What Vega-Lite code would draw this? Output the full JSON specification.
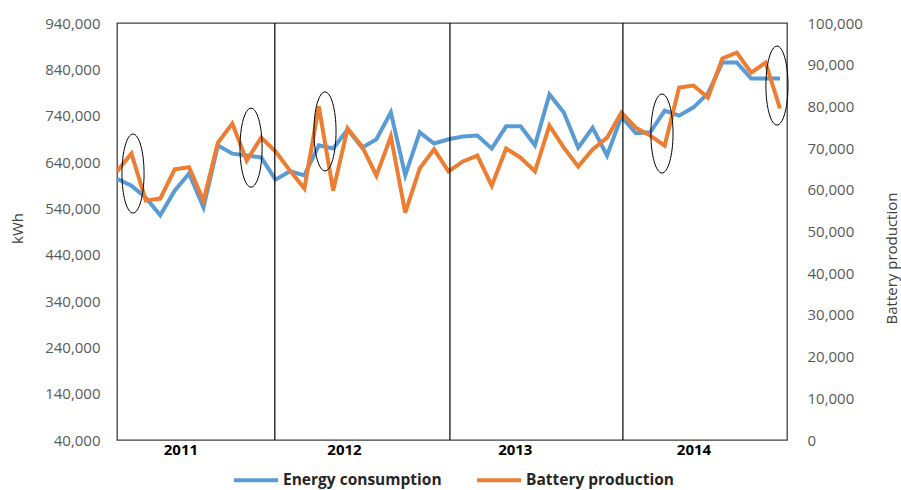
{
  "$schema": "https://vega.github.io/schema/vega-lite/v6.json",
  "width": 670,
  "height": 417,
  "autosize": {"type": "none"},
  "padding": {"left": 117, "top": 23, "right": 114, "bottom": 50},
  "config": {
    "view": {"stroke": "#404040", "strokeWidth": 1.3},
    "font": "Open Sans"
  },
  "datasets": {
    "series": [
      {"i": 0, "energy": 604000, "battery": 64400},
      {"i": 1, "energy": 589000, "battery": 68700},
      {"i": 2, "energy": 563000, "battery": 57400},
      {"i": 3, "energy": 525000, "battery": 57900},
      {"i": 4, "energy": 578000, "battery": 64900},
      {"i": 5, "energy": 615000, "battery": 65400},
      {"i": 6, "energy": 542000, "battery": 57400},
      {"i": 7, "energy": 676000, "battery": 71300},
      {"i": 8, "energy": 658000, "battery": 75900},
      {"i": 9, "energy": 654000, "battery": 67000},
      {"i": 10, "energy": 650000, "battery": 72500},
      {"i": 11, "energy": 602000, "battery": 69200},
      {"i": 12, "energy": 620000, "battery": 64600},
      {"i": 13, "energy": 611000, "battery": 60300},
      {"i": 14, "energy": 676000, "battery": 80000},
      {"i": 15, "energy": 669000, "battery": 59800},
      {"i": 16, "energy": 710000, "battery": 74700},
      {"i": 17, "energy": 671000, "battery": 70400},
      {"i": 18, "energy": 689000, "battery": 63400},
      {"i": 19, "energy": 747000, "battery": 72800},
      {"i": 20, "energy": 611000, "battery": 54500},
      {"i": 21, "energy": 704000, "battery": 65100},
      {"i": 22, "energy": 680000, "battery": 69700},
      {"i": 23, "energy": 689000, "battery": 64400},
      {"i": 24, "energy": 695000, "battery": 66800},
      {"i": 25, "energy": 697000, "battery": 68200},
      {"i": 26, "energy": 669000, "battery": 61000},
      {"i": 27, "energy": 717000, "battery": 69900},
      {"i": 28, "energy": 717000, "battery": 67700},
      {"i": 29, "energy": 676000, "battery": 64400},
      {"i": 30, "energy": 786000, "battery": 75400},
      {"i": 31, "energy": 747000, "battery": 70100},
      {"i": 32, "energy": 671000, "battery": 65600},
      {"i": 33, "energy": 714000, "battery": 69700},
      {"i": 34, "energy": 654000, "battery": 72500},
      {"i": 35, "energy": 738000, "battery": 78500},
      {"i": 36, "energy": 702000, "battery": 74900},
      {"i": 37, "energy": 704000, "battery": 73000},
      {"i": 38, "energy": 751000, "battery": 70600},
      {"i": 39, "energy": 740000, "battery": 84500},
      {"i": 40, "energy": 758000, "battery": 85000},
      {"i": 41, "energy": 788000, "battery": 82100},
      {"i": 42, "energy": 855000, "battery": 91500},
      {"i": 43, "energy": 855000, "battery": 92900},
      {"i": 44, "energy": 820000, "battery": 88100},
      {"i": 45, "energy": 820000, "battery": 90500},
      {"i": 46, "energy": 820000, "battery": 79500}
    ],
    "ovals": [
      {"i": 1.11, "battery": 63900},
      {"i": 9.3, "battery": 70100},
      {"i": 14.43, "battery": 74000},
      {"i": 37.81, "battery": 73500},
      {"i": 45.79, "battery": 85000}
    ],
    "seps": [
      {"i": 10.95},
      {"i": 23.1},
      {"i": 35.1}
    ]
  },
  "layer": [
    {
      "data": {"name": "series"},
      "mark": {"type": "line", "strokeWidth": 4},
      "encoding": {
        "x": {
          "field": "i",
          "type": "quantitative",
          "scale": {"domain": [0, 46.486], "nice": false, "zero": false},
          "axis": {
            "values": [4.4, 15.75, 27.6, 40],
            "labelExpr": "datum.value < 10 ? '2011' : datum.value < 20 ? '2012' : datum.value < 30 ? '2013' : '2014'",
            "ticks": false,
            "domain": false,
            "grid": false,
            "labelFontWeight": "bold",
            "labelColor": "#000000",
            "labelFontSize": 15,
            "labelPadding": 2,
            "labelFlush": false,
            "labelOverlap": false,
            "title": null
          }
        },
        "y": {
          "field": "energy",
          "type": "quantitative",
          "scale": {"domain": [40000, 940000], "nice": false, "zero": false},
          "axis": {
            "values": [40000, 140000, 240000, 340000, 440000, 540000, 640000, 740000, 840000, 940000],
            "format": ",.0f",
            "ticks": false,
            "domain": false,
            "grid": false,
            "labelPadding": 17,
            "labelFontSize": 15,
            "labelColor": "#595959",
            "title": "kWh",
            "titleFontSize": 15,
            "titleFontWeight": "normal",
            "titleColor": "#404040",
            "titleX": -100,
            "titleY": 205,
            "titleAngle": 270,
            "titleAlign": "center",
            "titleBaseline": "middle"
          }
        },
        "color": {
          "datum": "Energy consumption",
          "type": "nominal",
          "scale": {"domain": ["Energy consumption", "Battery production"], "range": ["#5B9BD5", "#ED7D31"]},
          "legend": {
            "orient": "none",
            "legendX": 115,
            "legendY": 433,
            "direction": "horizontal",
            "title": null,
            "symbolType": "stroke",
            "symbolSize": 1936,
            "symbolStrokeWidth": 4,
            "labelFontSize": 15.5,
            "labelFontWeight": "bold",
            "labelColor": "#262626",
            "labelOffset": 3,
            "columnPadding": 27
          }
        }
      }
    },
    {
      "layer": [
        {
          "data": {"name": "series"},
          "mark": {"type": "line", "strokeWidth": 4},
          "encoding": {
            "x": {"field": "i", "type": "quantitative"},
            "y": {
              "field": "battery",
              "type": "quantitative",
              "scale": {"domain": [0, 100000], "nice": false},
              "axis": {
                "orient": "right",
                "values": [0, 10000, 20000, 30000, 40000, 50000, 60000, 70000, 80000, 90000, 100000],
                "format": ",.0f",
                "ticks": false,
                "domain": false,
                "grid": false,
                "labelPadding": 20,
                "labelFontSize": 15,
                "labelColor": "#595959",
                "title": "Battery production",
                "titleFontSize": 15,
                "titleFontWeight": "normal",
                "titleColor": "#404040",
                "titleX": 104,
                "titleY": 235,
                "titleAngle": 270,
                "titleAlign": "center",
                "titleBaseline": "middle"
              }
            },
            "color": {"datum": "Battery production", "type": "nominal"}
          }
        },
        {
          "data": {"name": "seps"},
          "mark": {"type": "rule", "color": "#000000", "strokeWidth": 1.2},
          "encoding": {
            "x": {"field": "i", "type": "quantitative"}
          }
        },
        {
          "data": {"name": "ovals"},
          "mark": {
            "type": "point",
            "shape": "M0,-1A0.28,1 0 1,1 0,1A0.28,1 0 1,1 0,-1Z",
            "size": 6241,
            "filled": false,
            "stroke": "#000000",
            "strokeWidth": 1,
            "opacity": 1
          },
          "encoding": {
            "x": {"field": "i", "type": "quantitative"},
            "y": {"field": "battery", "type": "quantitative", "scale": {"domain": [0, 100000], "nice": false}}
          }
        }
      ]
    }
  ],
  "resolve": {"scale": {"y": "independent"}}
}
